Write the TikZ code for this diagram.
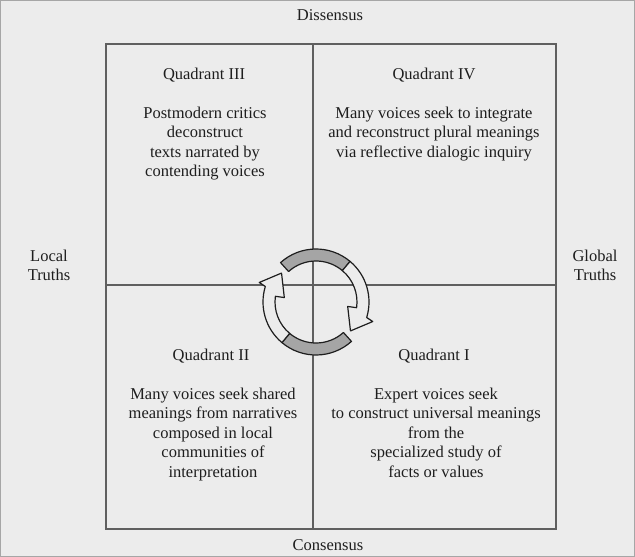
\documentclass[tikz,border=0pt]{standalone}
\usepackage{fontspec}
\setmainfont{Liberation Serif}
\definecolor{paper}{RGB}{236,236,236}
\definecolor{ink}{RGB}{30,30,30}
\definecolor{rule}{RGB}{95,95,95}
\definecolor{band}{RGB}{165,165,165}
\begin{document}
\begin{tikzpicture}[x=1pt,y=-1pt,
  every node/.style={text=ink,font=\fontsize{16.5}{19.5}\selectfont,inner sep=0pt},
  txt/.style={align=center},
  gridline/.style={draw=rule,line width=1.8pt},
  frameline/.style={draw=black!35,line width=1pt},
  grayarc/.style={fill=band,draw=ink,line width=1.2pt,line join=round},
  whitearrow/.style={fill=paper,draw=ink,line width=1.2pt,line join=round}]
\useasboundingbox[fill=paper] (0,0) rectangle (635,557);
\draw[frameline] (0.5,0.5) rectangle (634.5,556.5);
% square and dividers
\coordinate (tl) at (106,44);
\coordinate (br) at (556,529);
\coordinate (nt) at (313,44);
\coordinate (nb) at (313,529);
\coordinate (wm) at (106,285);
\coordinate (em) at (556,285);
\draw[gridline] (tl) rectangle (br);
\draw[gridline] (nt) -- (nb);
\draw[gridline] (wm) -- (em);
% axis labels
\node (dis) at (330,15) {Dissensus};
\node (con) at (328,545) {Consensus};
\node[txt] (loc) at (49,265.5) {Local\\Truths};
\node[txt] (glo) at (595,265.5) {Global\\Truths};
% quadrant titles
\node (q3) at (204,75) {Quadrant III};
\node (q4) at (434,75) {Quadrant IV};
\node (q2) at (211,356) {Quadrant II};
\node (q1) at (434,356) {Quadrant I};
% quadrant texts
\node[txt,anchor=north] (t3) at (205,106.7) {Postmodern critics\\deconstruct\\texts narrated by\\contending voices};
\node[txt,anchor=north] (t4) at (434,106.7) {Many voices seek to integrate\\and reconstruct plural meanings\\via reflective dialogic inquiry};
\node[txt,anchor=north] (t2) at (213,387.7) {Many voices seek shared\\meanings from narratives\\composed in local\\communities of\\interpretation};
\node[txt,anchor=north] (t1) at (436,387.7) {Expert voices seek\\to construct universal meanings\\from the\\specialized study of\\facts or values};
% cycle arrows
\begin{scope}[shift={(316,302)},x=1pt,y=1pt]
  % upper arrow: gray tail over the top, white head on the right
  \draw[grayarc] (132:53) arc[start angle=132,end angle=50,radius=53]
     -- (50:41) arc[start angle=50,end angle=132,radius=41] -- cycle;
  \draw[whitearrow] (50:53) arc[start angle=50,end angle=-17,radius=53]
     -- (-19:60) -- (-40:45) -- (-8:32) -- (-8:41)
     arc[start angle=-8,end angle=50,radius=41] -- cycle;
  % lower arrow: gray tail along the bottom, white head on the left
  \draw[grayarc] (312:53) arc[start angle=312,end angle=230,radius=53]
     -- (230:41) arc[start angle=230,end angle=312,radius=41] -- cycle;
  \draw[whitearrow] (230:53) arc[start angle=230,end angle=163,radius=53]
     -- (161:60) -- (140:45) -- (172:32) -- (172:41)
     arc[start angle=172,end angle=230,radius=41] -- cycle;
\end{scope}
\end{tikzpicture}
\end{document}
